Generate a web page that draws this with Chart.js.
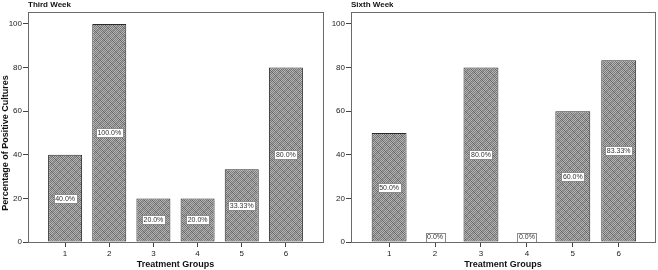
<!DOCTYPE html>
<html>
<head>
<meta charset="utf-8">
<script src="https://cdn.jsdelivr.net/npm/chart.js@4"></script>
<style>
  body { margin: 0; background: #fff; }
  .wrap { position: relative; width: 658px; height: 270px; }
  canvas { position: absolute; top: 0; }
</style>
</head>
<body>
<div class="wrap">
  <canvas id="third" width="330" height="270" style="left:0"></canvas>
  <canvas id="sixth" width="328" height="270" style="left:330px"></canvas>
</div>
<script>
// values
const groups = [1, 2, 3, 4, 5, 6];
const thirdWeek = [40, 100, 20, 20, 33.33, 80];
const sixthWeek = [50, 0, 80, 0, 60, 83.33];
const yTicks = [0, 20, 40, 60, 80, 100];

// crosshatch fill like the SPSS bars
function hatch() {
  const c = document.createElement('canvas');
  c.width = 8; c.height = 8;
  const g = c.getContext('2d');
  for (let y = 0; y < 8; y++) {
    for (let x = 0; x < 8; x++) {
      let v = (x + y) % 2 === 0 ? 122 : 182;
      if (x === y || x === 7 - y) v -= 22;
      g.fillStyle = `rgb(${v},${v},${v})`;
      g.fillRect(x, y, 1, 1);
    }
  }
  return g.createPattern(c, 'repeat');
}

const framePlugin = {
  id: 'frame',
  afterDraw(chart) {
    const { ctx, chartArea: a } = chart;
    const opts = chart.options.plugins;
    ctx.save();
    ctx.strokeStyle = '#6a6a6a';
    ctx.lineWidth = 1;
    ctx.strokeRect(Math.round(a.left) + 0.5, Math.round(a.top) + 0.5,
      Math.round(a.right - a.left), Math.round(a.bottom - a.top));
    // chart heading
    ctx.fillStyle = '#111';
    ctx.font = 'bold 8px Arial, "Liberation Sans", sans-serif';
    ctx.textBaseline = 'middle';
    ctx.fillText(opts.heading, Math.round(a.left), 5);
    // y title sits a bit below the axis centre in the original
    if (opts.yTitle) {
      ctx.font = 'bold 9px Arial, "Liberation Sans", sans-serif';
      ctx.textAlign = 'center';
      ctx.translate(6, 143);
      ctx.rotate(-Math.PI / 2);
      ctx.fillText(opts.yTitle, 0, 0);
    }
    ctx.restore();
  }
};

const labelPlugin = {
  id: 'boxLabels',
  afterDatasetsDraw(chart) {
    const { ctx } = chart;
    const ds = chart.data.datasets[0];
    ctx.save();
    ctx.font = '7px Arial, "Liberation Sans", sans-serif';
    ctx.textAlign = 'center';
    ctx.textBaseline = 'middle';
    chart.getDatasetMeta(0).data.forEach((bar, i) => {
      const v = ds.data[i].y;
      const txt = (v % 1 === 0 ? v.toFixed(1) : v.toFixed(2)) + '%';
      const w = Math.round(ctx.measureText(txt).width) + 3;
      const h = 9;
      let cy = (bar.y + bar.base) / 2;
      if (v === 0) cy = bar.base - 5;
      const x0 = Math.round(bar.x - w / 2) + 0.5;
      const y0 = Math.round(cy - h / 2) + 0.5;
      ctx.fillStyle = '#fff';
      ctx.fillRect(x0, y0, w, h);
      ctx.strokeStyle = '#8a8a8a';
      ctx.lineWidth = 1;
      ctx.strokeRect(x0, y0, w, h);
      ctx.fillStyle = '#333';
      ctx.fillText(txt, bar.x, cy + 0.5);
    });
    ctx.restore();
  }
};

function makeChart(id, values, opts) {
  const tickFont = { family: 'Arial, "Liberation Sans", sans-serif', size: 8 };
  const titleFont = { family: 'Arial, "Liberation Sans", sans-serif', size: 9, weight: 'bold' };
  return new Chart(document.getElementById(id), {
    type: 'bar',
    data: {
      datasets: [{
        data: groups.map((g, i) => ({ x: g, y: values[i] })),
        backgroundColor: hatch(),
        borderColor: '#2a2a2a',
        borderWidth: 1,
        borderSkipped: false,
        barPercentage: opts.barPct,
        categoryPercentage: 1
      }]
    },
    options: {
      responsive: false,
      animation: false,
      devicePixelRatio: 1,
      layout: { padding: { top: 12, right: opts.padRight, left: 0, bottom: 0 } },
      plugins: {
        legend: { display: false }, tooltip: { enabled: false },
        heading: opts.heading, yTitle: opts.yTitle
      },
      scales: {
        x: {
          type: 'linear',
          offset: false,
          min: opts.xMin,
          max: opts.xMax,
          afterBuildTicks(s) { s.ticks = groups.map(v => ({ value: v })); },
          afterFit(s) { s.height = 28; },
          grid: { drawOnChartArea: false, offset: false, tickLength: 5, color: '#444' },
          border: { color: '#6a6a6a' },
          ticks: { color: '#222', font: tickFont, padding: 2, maxRotation: 0 },
          title: { display: true, text: 'Treatment Groups', color: '#111', font: titleFont, padding: 0 }
        },
        y: {
          min: 0,
          max: 105.5,
          afterBuildTicks(s) { s.ticks = yTicks.map(v => ({ value: v })); },
          afterFit(s) { s.width = opts.yWidth; },
          grid: { drawOnChartArea: false, tickLength: 5, color: '#444' },
          border: { color: '#6a6a6a' },
          ticks: { color: '#222', font: tickFont, padding: 1 }
        }
      }
    },
    plugins: [framePlugin, labelPlugin]
  });
}

makeChart('third', thirdWeek, {
  heading: 'Third Week', yTitle: 'Percentage of Positive Cultures', yWidth: 28, padRight: 7,
  xMin: 0.16, xMax: 6.84, barPct: 0.77
});
makeChart('sixth', sixthWeek, {
  heading: 'Sixth Week', yTitle: '', yWidth: 21, padRight: 3,
  xMin: 0.17, xMax: 6.79, barPct: 0.76
});
</script>
</body>
</html>
